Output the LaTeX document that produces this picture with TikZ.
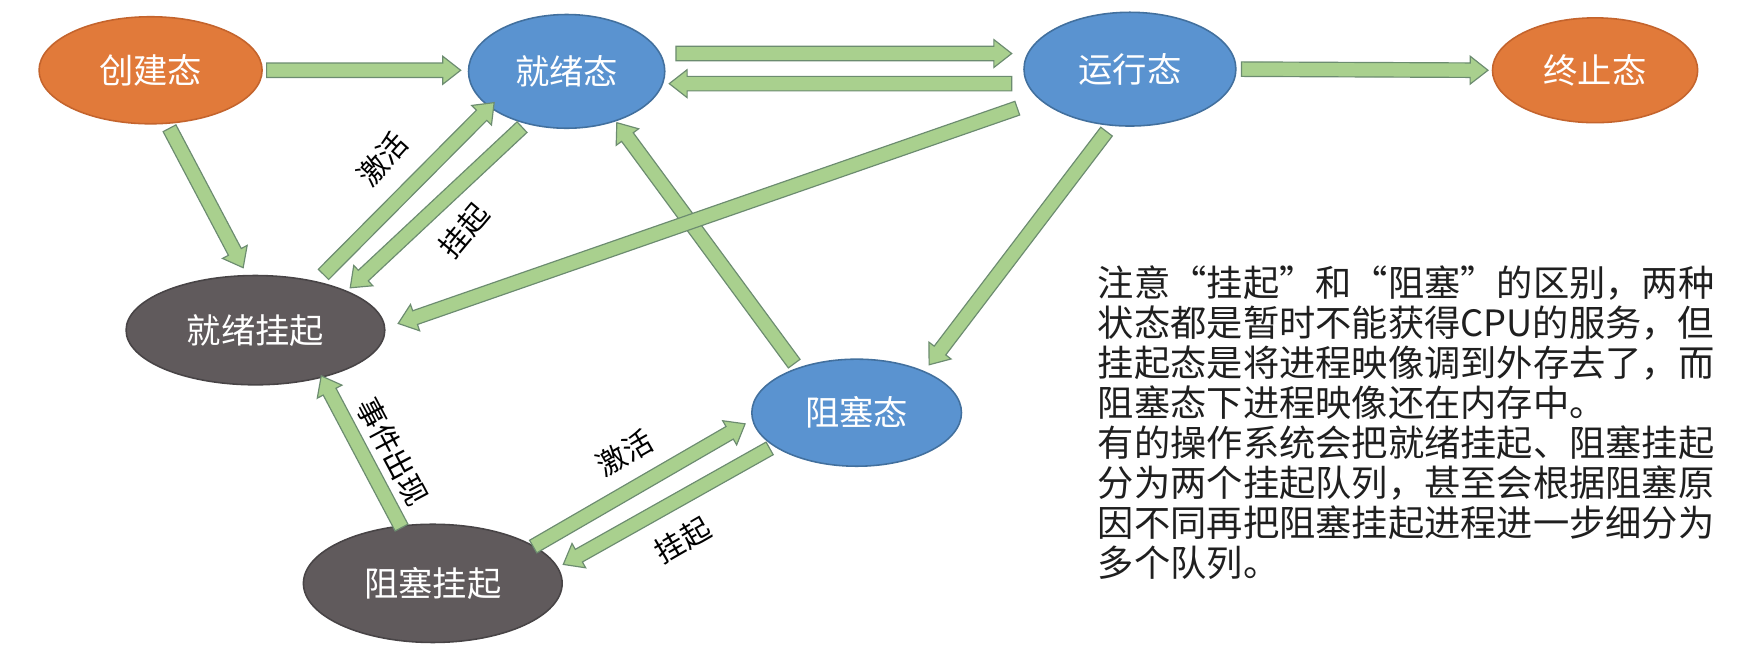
\documentclass[tikz,border=0pt]{standalone}
\usepackage{fontspec}
\newfontfamily\cjk{Noto Sans CJK SC}
\usetikzlibrary{shapes.geometric,calc}

\definecolor{orangefill}{RGB}{225,122,58}
\definecolor{orangeline}{RGB}{196,100,45}
\definecolor{bluefill}{RGB}{90,147,208}
\definecolor{blueline}{RGB}{66,112,158}
\definecolor{grayfill}{RGB}{96,90,92}
\definecolor{grayline}{RGB}{72,68,70}
\definecolor{arrowfill}{RGB}{169,208,142}
\definecolor{arrowline}{RGB}{108,140,112}

\tikzset{
  state/.style={ellipse, inner sep=0pt, line width=0.8pt, text=white,
    font=\cjk\fontsize{17.5}{20}\selectfont},
  orangestate/.style={state, fill=orangefill, draw=orangeline},
  bluestate/.style={state, fill=bluefill, draw=blueline},
  graystate/.style={state, fill=grayfill, draw=grayline},
  garrowbody/.style={draw=arrowline, fill=arrowfill, line width=0.6pt, line join=miter},
  edgetext/.style={font=\cjk\fontsize{15}{18}\selectfont, inner sep=0pt},
  note/.style={font=\cjk\fontsize{18.5}{20.4}\selectfont, align=left, inner sep=0pt,
    text=black!88}
}

% block arrow from #1 to #2
\newcommand{\garrow}[2]{%
  \draw[garrowbody] let \p1=#1, \p2=#2, \p3=($(\p2)!0.32cm!(\p1)$) in
    ($(\p1)!0.13cm!90:(\p2)$) -- ($(\p3)!0.13cm!90:(\p2)$) -- ($(\p3)!0.25cm!90:(\p2)$)
    -- (\p2) -- ($(\p3)!0.25cm!-90:(\p2)$) -- ($(\p3)!0.13cm!-90:(\p2)$)
    -- ($(\p1)!0.13cm!-90:(\p2)$) -- cycle;}

\begin{document}
\begin{tikzpicture}[x=0.02cm,y=-0.02cm]
    \useasboundingbox[fill=white] (0,0) rectangle (1568,597);

    % states
    \node[orangestate, minimum width=4cm, minimum height=1.92cm] (cj) at (135,63) {创建态};
    \node[bluestate, minimum width=3.52cm, minimum height=2.04cm] (jx) at (508,64) {就绪态};
    \node[bluestate, minimum width=3.8cm, minimum height=2.04cm] (yx) at (1013,62) {运行态};
    \node[orangestate, minimum width=3.68cm, minimum height=1.88cm] (zz) at (1430,63) {终止态};
    \node[graystate, minimum width=4.64cm, minimum height=1.96cm] (jxgq) at (229,296) {就绪挂起};
    \node[bluestate, minimum width=3.76cm, minimum height=1.92cm] (zs) at (768,370) {阻塞态};
    \node[graystate, minimum width=4.64cm, minimum height=2.12cm] (zsgq) at (388,523) {阻塞挂起};

    % transitions
    \garrow{($(cj.center)+(104,0)$)}{($(jx.center)+(-95,-1)$)}
    \garrow{($(jx.center)+(98,-16)$)}{($(yx.center)+(-106,-14)$)}
    \garrow{($(yx.center)+(-106,13)$)}{($(jx.center)+(92,11)$)}
    \garrow{($(yx.center)+(100,0)$)}{($(zz.center)+(-96,0)$)}
    \garrow{($(cj.center)+(17,52)$)}{($(jxgq.center)+(-11,-56)$)}
    \garrow{($(jxgq.center)+(61,-50)$)}{($(jx.center)+(-65,28)$)}
    \garrow{($(jx.center)+(-40,50)$)}{($(jxgq.center)+(85,-38)$)}
    \garrow{($(zs.center)+(-56,-44)$)}{($(jx.center)+(45,46)$)}
    \garrow{($(yx.center)+(-101,35)$)}{($(jxgq.center)+(128,-6)$)}
    \garrow{($(yx.center)+(-21,56)$)}{($(zs.center)+(65,-43)$)}
    \garrow{($(zsgq.center)+(-28,-50)$)}{($(jxgq.center)+(59,41)$)}
    \garrow{($(zsgq.center)+(90,-33)$)}{($(zs.center)+(-100,10)$)}
    \garrow{($(zs.center)+(-78,32)$)}{($(zsgq.center)+(117,-17)$)}

    % labels
    \node[edgetext, rotate=48] (lbjh) at (343,143) {激活};
    \node[edgetext, rotate=50] (lbgq) at (416,207) {挂起};
    \node[edgetext, rotate=-62] (lbsj) at (352,405) {事件出现};
    \node[edgetext, rotate=30] (lbjh2) at (560,406) {激活};
    \node[edgetext, rotate=30] (lbgq2) at (612,484) {挂起};

    % note
    \node[note, anchor=north west] (nt) at (984,238) {注意“挂起”和“阻塞”的区别，两种\\
      状态都是暂时不能获得CPU的服务，但\\
      挂起态是将进程映像调到外存去了，而\\
      阻塞态下进程映像还在内存中。\\
      有的操作系统会把就绪挂起、阻塞挂起\\
      分为两个挂起队列，甚至会根据阻塞原\\
      因不同再把阻塞挂起进程进一步细分为\\
      多个队列。};
\end{tikzpicture}
\end{document}
